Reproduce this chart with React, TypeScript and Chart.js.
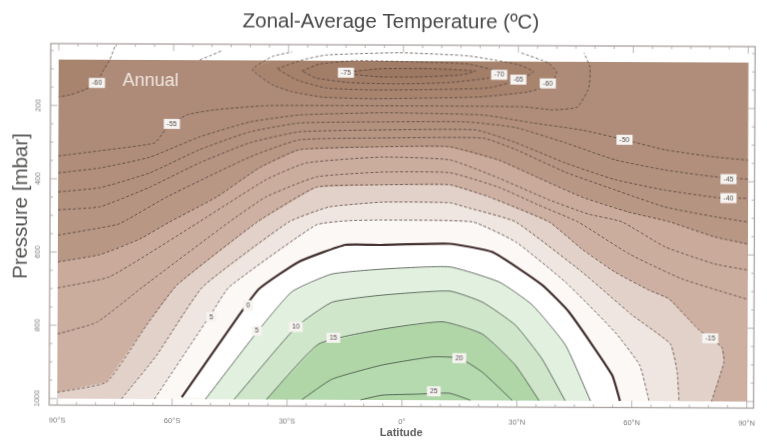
import React, { useEffect, useRef } from "react";
import { Chart, registerables } from "chart.js";

Chart.register(...registerables);

// Axis ticks
const latTicks = [-90, -60, -30, 0, 30, 60, 90];
const latTickLabels = ["90°S", "60°S", "30°S", "0°", "30°N", "60°N", "90°N"];
const pressureTicks = [200, 400, 600, 800, 1000];
const latMinorTicks = [-85,-80,-75,-70,-65,-55,-50,-45,-40,-35,-25,-20,-15,-10,-5,5,10,15,20,25,35,40,45,50,55,65,70,75,80,85];
const pressureMinorTicks = [50,100,150,250,300,350,450,500,550,650,700,750,850,900,950];

const LAT_W = -90;
const LAT_E = 90;
const P_TOP = 75;
const P_BOTTOM = 1000;

// Isotherms: latitude (deg) and pressure (mbar)
const latM75 = [-16.8,-6.4,6.6,18.8,15.1,4,-6.4,-16.8];
const pM75 = [108,96,95,101,112,118,118,108];
const latM70 = [-26.5,-22.1,-12.4,4,17,24.8,22.2,11.8,-1.2,-14.2,-22.8,-26.5];
const pM70 = [103,84,74,77,82,103,120,133,137,134,122,103];
const latM65 = [-33,-26.5,-20.2,-1.2,17,30,33.9,30.5,22.2,4,-8.2,-20.2,-28,-33];
const pM65 = [97,73,59,52,60,83,102,124,147,153,154,149,127,97];
const latM60 = [30.8,37.8,40,38.7,32.7,19.7,-8.1,-21.1,-29,-34.2,-39.4,-34.3,-29.1];
const pM60 = [51,78,102,135,157,172,178,174,160,141,100,64,51];
const latM60West = [-75.4,-76.7,-78.5,-80.1,-83.2,-87,-90];
const pM60West = [39,75,107,138,157,171,177];
const latM60Frag = [-53.2,-50.6,-47.5];
const pM60Frag = [74,63,49];
const latM55 = [-90,-79.1,-64.8,-62.2,-60.4,-56.5,-49.2,-35.4,-5.2,31.2,39,45.5,48.4,48.7,47.1];
const pM55 = [338,323,301,266,249,224,210,198,197,198,206,198,146,90,50];
const latM50 = [-90,-79.1,-66.1,-53.1,-40.1,-27.1,-5.5,20.8,33.8,46.8,57.8,68.4,81.4,90];
const pM50 = [384,370,340,284,243,223,216,221,242,261,287,314,333,341];
const latM45 = [-90,-79.1,-66.1,-53.1,-40.1,-27.1,-5.5,16.4,29.4,42.4,55.4,68.4,81.4,90];
const pM45 = [436,424,383,319,270,245,241,240,255,296,342,369,387,393];
const latM40 = [-90,-79.1,-66.1,-53.1,-40.1,-27.1,-5.5,19,29.4,42.4,55.4,68.4,83.2,90];
const pM40 = [485,476,422,355,300,269,263,262,296,351,396,424,445,445];
const latM35 = [-90,-74.7,-72.1,-61.7,-40.1,-27.1,-5.5,20.8,29.4,42.4,55.4,68.4,81.4,90];
const pM35 = [554,525,512,449,339,291,285,284,315,376,424,470,496,510];
const latM30 = [-90,-79.1,-68.7,-60.9,-48.6,-37.5,-27.1,-5.5,12,25,35.4,46.8,58.8,69.5,81.4,90];
const pM30 = [627,607,564,517,448,368,318,309,308,344,392,444,484,510,551,570];
const latM25 = [-90,-76.5,-53.1,-35.7,-25.3,-5.5,12.2,25,38.2,48.4,57.2,68.5,81.5,90];
const pM25 = [698,667,516,400,354,337,344,393,452,490,511,579,625,641];
const latM20 = [-90,-79.7,-67.9,-45.3,-35.7,-22.6,-5.5,12.2,25,35.4,45.8,59.2,72.9,90];
const pM20 = [824,791,695,516,447,392,378,379,418,466,512,599,666,721];
const latM15 = [-90,-77.1,-66.8,-58.9,-38,-22.6,-5.5,12.2,22.6,38.2,46.8,55.4,64.3,69.6,77.2,83.4,84,80.8];
const pM15 = [983,954,799,689,516,420,413,412,445,512,586,648,697,721,803,852,893,1000];
const latM10 = [-73.2,-64.1,-52.2,-29.7,-19.3,-5.2,12.2,17.2,29.4,46.9,59.9,70,71.8,72.3];
const pM10 = [1000,881,694,515,474,460,461,475,512,649,765,844,920,1000];
const latM5 = [-64.6,-49.6,-45.3,-22.6,-14,-5.5,18.2,29.5,42.5,55.5,62,64.5];
const pM5 = [1000,762,694,523,511,509,513,567,676,812,902,1000];
const lat0 = [-57.5,-42.6,-37.4,-27.1,-14.9,-5.5,12.2,23.4,36.4,43.5,54.8,56.9];
const p0 = [995,770,698,624,577,577,573,595,684,758,929,1000];
const lat5 = [-51.3,-37.9,-28.9,-18.5,-5.5,12.3,25.3,33.9,42.6,49.2];
const p5 = [1000,816,706,657,643,636,677,739,848,1000];
const lat10 = [-43.8,-27.7,-18.4,-5.4,12.3,20.9,29.5,36.5,42.6];
const p10 = [1000,802,734,714,702,732,794,886,1000];
const lat15 = [-35.4,-21.8,-5.3,10.5,20.9,29.5,35.8];
const p15 = [1000,848,807,786,819,903,1000];
const lat20 = [-26.1,-18.3,-5.3,7.9,14.9,20.9,28.8];
const p20 = [1000,944,905,882,885,923,1000];
const lat25 = [-10.8,-5.2,3.6,12.4,17.9];
const p25 = [1000,987,984,981,1000];

// Contour labels
const labelTexts = ["-60","-55","-75","-70","-65","-60","-50","-45","-40","-15","5","0","5","10","15","20","25"];
const labelLats = [-80,-60.4,-15,25,30,37.7,57.8,85,85,80.4,-49.9,-40.3,-38,-27.8,-18,14.9,8.3];
const labelPressures = [138,249,107,111,124,134,287,393,445,828,776,743,813,802,831,885,976];

const pts = (lats: number[], ps: number[]) => lats.map((x, i) => ({ x, y: ps[i] }));
const clampTop = (d: { x: number; y: number }[]) => d.map((q) => ({ x: q.x, y: Math.max(q.y, P_TOP) }));
const bottomBoth = [{ x: LAT_E, y: P_BOTTOM }, { x: LAT_W, y: P_BOTTOM }];

const poly = (data: { x: number; y: number }[], color: string) => ({
  type: "scatter" as const,
  data,
  showLine: true,
  fill: "shape",
  backgroundColor: color,
  borderWidth: 0,
  borderColor: "rgba(0,0,0,0)",
  pointRadius: 0,
  tension: 0,
});

const stroke = (lats: number[], ps: number[], label: string, dash: number[], color: string, width: number) => ({
  type: "scatter" as const,
  label,
  data: pts(lats, ps),
  showLine: true,
  fill: false,
  borderColor: color,
  borderWidth: width,
  borderDash: dash,
  pointRadius: 0,
  tension: 0.15,
});

function buildDatasets() {
  const warm: [number[], number[], string][] = [
    [latM50, pM50, "#b18f7c"],
    [latM45, pM45, "#b3917f"],
    [latM40, pM40, "#b59482"],
    [latM35, pM35, "#b89785"],
    [latM30, pM30, "#c9aa9b"],
    [latM25, pM25, "#cbad9e"],
    [latM20, pM20, "#cdb0a2"],
  ];
  const inner: [number[], number[], string][] = [
    [latM10, pM10, "#f0e6e1"],
    [latM5, pM5, "#fbf8f6"],
    [lat0, p0, "#ffffff"],
    [lat5, p5, "#e2f0df"],
    [lat10, p10, "#cfe6cb"],
    [lat15, p15, "#b0d5a7"],
    [lat20, p20, "#b6dab0"],
    [lat25, p25, "#aed6a6"],
  ];
  const cold: [number[], number[], string][] = [
    [latM60, pM60, "#a8846f"],
    [latM65, pM65, "#a5816c"],
    [latM70, pM70, "#a27d68"],
    [latM75, pM75, "#9d7863"],
  ];
  const fills = [
    poly([{ x: LAT_W, y: P_TOP }, { x: LAT_E, y: P_TOP }, { x: LAT_E, y: P_BOTTOM }, { x: LAT_W, y: P_BOTTOM }], "#ae8b78"),
    poly([...clampTop(pts(latM55, pM55)), { x: LAT_E, y: P_TOP }, ...bottomBoth], "#b08d7a"),
    ...warm.map(([a, b, c]) => poly([...pts(a, b), ...bottomBoth], c)),
    poly([...pts(latM15, pM15), { x: LAT_W, y: P_BOTTOM }], "#e2d1c8"),
    ...inner.map(([a, b, c]) => poly(pts(a, b), c)),
    poly([...clampTop(pts(latM60West, pM60West)), { x: LAT_W, y: P_TOP }], "#a8846f"),
    ...cold.map(([a, b, c]) => poly(clampTop(pts(a, b)), c)),
  ];
  const D = [3, 2];
  const NEG = "rgba(66,52,46,0.75)";
  const POS = "rgba(62,78,62,0.8)";
  const lines = [
    stroke(latM75, pM75, "-75", D, NEG, 0.9),
    stroke(latM70, pM70, "-70", D, NEG, 0.9),
    stroke(latM65, pM65, "-65", D, NEG, 0.9),
    stroke(latM60, pM60, "-60", D, NEG, 0.9),
    stroke(latM60West, pM60West, "-60", D, NEG, 0.9),
    stroke(latM60Frag, pM60Frag, "-60", D, NEG, 0.9),
    stroke(latM55, pM55, "-55", D, NEG, 0.9),
    stroke(latM50, pM50, "-50", D, NEG, 0.9),
    stroke(latM45, pM45, "-45", D, NEG, 0.9),
    stroke(latM40, pM40, "-40", D, NEG, 0.9),
    stroke(latM35, pM35, "-35", D, NEG, 0.9),
    stroke(latM30, pM30, "-30", D, NEG, 0.9),
    stroke(latM25, pM25, "-25", D, NEG, 0.9),
    stroke(latM20, pM20, "-20", D, NEG, 0.9),
    stroke(latM15, pM15, "-15", D, NEG, 0.9),
    stroke(latM10, pM10, "-10", D, NEG, 0.9),
    stroke(latM5, pM5, "-5", D, NEG, 0.9),
    stroke(lat0, p0, "0", [], "#43302f", 2.2),
    stroke(lat5, p5, "5", [], POS, 1),
    stroke(lat10, p10, "10", [], POS, 1),
    stroke(lat15, p15, "15", [], POS, 1),
    stroke(lat20, p20, "20", [], POS, 1),
    stroke(lat25, p25, "25", [], POS, 1),
  ];
  const all = [...fills, ...lines];
  return all.map((d, i) => ({ ...d, order: all.length - i }));
}

const framePlugin = {
  id: "frameAndLabels",
  afterDatasetsDraw(chart: any) {
    const { ctx, chartArea: a, scales } = chart;
    const xs = scales.x;
    const ys = scales.y;
    ctx.save();
    // contour labels
    ctx.textAlign = "center";
    ctx.textBaseline = "middle";
    ctx.font = "7px 'Liberation Sans'";
    labelTexts.forEach((t, i) => {
      const px = xs.getPixelForValue(labelLats[i]);
      const py = ys.getPixelForValue(labelPressures[i]);
      const w = ctx.measureText(t).width + 6;
      ctx.fillStyle = "#f6f3f1";
      ctx.fillRect(px - w / 2, py - 5, w, 10);
      ctx.fillStyle = "#55504e";
      ctx.fillText(t, px, py);
    });
    ctx.font = "18px 'Liberation Sans'";
    ctx.fillStyle = "#efe6e0";
    ctx.fillText("Annual", xs.getPixelForValue(-66), ys.getPixelForValue(131));
    // frame
    ctx.strokeStyle = "#aaa3a0";
    ctx.lineWidth = 1.3;
    ctx.strokeRect(a.left, a.top, a.right - a.left, a.bottom - a.top);
    ctx.lineWidth = 0.8;
    const hTick = (v: number, len: number) => {
      const p = xs.getPixelForValue(v);
      ctx.beginPath();
      ctx.moveTo(p, a.top); ctx.lineTo(p, a.top + len);
      ctx.moveTo(p, a.bottom); ctx.lineTo(p, a.bottom - len);
      ctx.stroke();
    };
    const vTick = (v: number, len: number) => {
      const p = ys.getPixelForValue(v);
      ctx.beginPath();
      ctx.moveTo(a.left, p); ctx.lineTo(a.left + len, p);
      ctx.moveTo(a.right, p); ctx.lineTo(a.right - len, p);
      ctx.stroke();
    };
    latTicks.forEach((v) => hTick(v, 7));
    latMinorTicks.forEach((v) => hTick(v, 3));
    pressureTicks.forEach((v) => vTick(v, 7));
    pressureMinorTicks.forEach((v) => vTick(v, 3));
    // rotated pressure tick labels
    ctx.font = "7.5px 'Liberation Sans'";
    ctx.fillStyle = "#7d7a78";
    pressureTicks.forEach((v) => {
      ctx.save();
      ctx.translate(38, ys.getPixelForValue(v));
      ctx.rotate(-Math.PI / 2);
      ctx.fillText(String(v), 0, 0);
      ctx.restore();
    });
    // y axis title
    ctx.font = "20.5px 'Liberation Sans'";
    ctx.fillStyle = "#555351";
    ctx.save();
    ctx.translate(21, ys.getPixelForValue(475));
    ctx.rotate(-Math.PI / 2);
    ctx.fillText("Pressure [mbar]", 0, 0);
    ctx.restore();
    ctx.restore();
  },
};

export default function App() {
  const ref = useRef<HTMLCanvasElement | null>(null);
  useEffect(() => {
    document.body.style.margin = "0";
    const chart = new Chart(ref.current as HTMLCanvasElement, {
      type: "scatter",
      data: { datasets: buildDatasets() as any },
      options: {
        animation: false,
        responsive: false,
        layout: { padding: { left: 23, right: 10, top: 0, bottom: 0 } },
        plugins: {
          legend: { display: false },
          tooltip: { enabled: false },
          title: {
            display: true,
            text: "Zonal-Average Temperature (ºC)",
            color: "#484848",
            font: { family: "'Liberation Sans'", size: 20.5, weight: "normal" },
            padding: { top: 10, bottom: 10.4 },
          },
        },
        scales: {
          x: {
            type: "linear",
            min: -92.1,
            max: 91.8,
            grid: { display: false, drawTicks: false },
            border: { display: false },
            afterBuildTicks: (s: any) => { s.ticks = latTicks.map((value) => ({ value })); },
            afterFit: (s: any) => { s.height = 37.5; },
            ticks: {
              autoSkip: false,
              maxRotation: 0,
              padding: 11,
              color: "#7d7a78",
              font: { family: "'Liberation Sans'", size: 7.5 },
              callback: (v: any) => latTickLabels[latTicks.indexOf(Number(v))] ?? "",
            },
            title: {
              display: true,
              text: "Latitude",
              color: "#5e5c5a",
              font: { family: "'Liberation Sans'", size: 11, weight: "bold" },
              padding: { top: 0, bottom: 4 },
            },
          },
          y: {
            type: "linear",
            reverse: true,
            min: 31,
            max: 1018,
            grid: { display: false, drawTicks: false },
            border: { display: false },
            afterBuildTicks: (s: any) => { s.ticks = pressureTicks.map((value) => ({ value })); },
            afterFit: (s: any) => { s.width = 27; },
            ticks: { display: false },
          },
        },
      },
      plugins: [framePlugin],
    } as any);
    return () => chart.destroy();
  }, []);
  return (
    <div style={{ position: "fixed", left: 0, top: 0, width: 767, height: 444, overflow: "hidden", background: "#fff" }}>
      <canvas
        ref={ref}
        width={767}
        height={444}
        style={{ display: "block", width: 767, height: 444, filter: "blur(0.5px)", transform: "rotate(0.25deg)", transformOrigin: "383px 222px" }}
      />
    </div>
  );
}
